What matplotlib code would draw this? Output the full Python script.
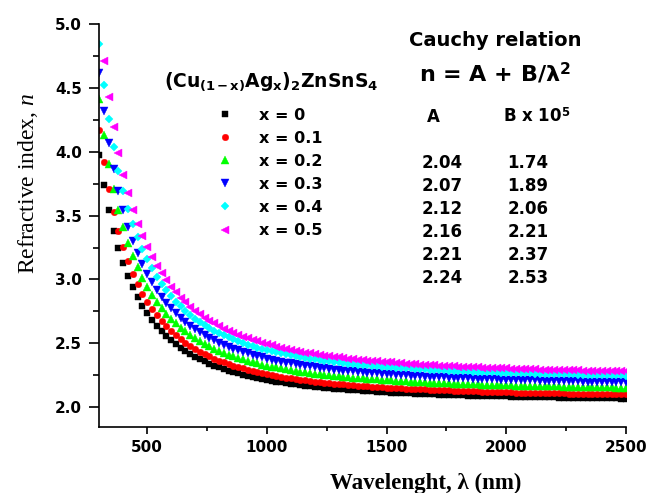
import numpy as np
import matplotlib
matplotlib.use("Agg")
import matplotlib.pyplot as plt
from matplotlib.ticker import MultipleLocator, FormatStrFormatter

plt.rcParams["font.family"] = ["DejaVu Sans"]
plt.rcParams["mathtext.fontset"] = "custom"
plt.rcParams["mathtext.rm"] = "DejaVu Sans:bold"
plt.rcParams["mathtext.bf"] = "DejaVu Sans:bold"
plt.rcParams["mathtext.it"] = "Liberation Serif:italic"

# wavelength grid (nm), one point every 20 nm
wavelength = np.arange(300, 2501, 20)

n_x00 = [3.973, 3.739, 3.545, 3.383, 3.245, 3.128, 3.026, 2.939, 2.862, 2.795,
         2.736, 2.683, 2.637, 2.595, 2.557, 2.523, 2.493, 2.465, 2.440, 2.416,
         2.395, 2.376, 2.358, 2.341, 2.326, 2.312, 2.299, 2.287, 2.275, 2.265,
         2.255, 2.246, 2.237, 2.229, 2.221, 2.214, 2.207, 2.201, 2.195, 2.189,
         2.184, 2.179, 2.174, 2.169, 2.165, 2.161, 2.157, 2.153, 2.150, 2.146,
         2.143, 2.140, 2.137, 2.134, 2.131, 2.129, 2.126, 2.124, 2.122, 2.120,
         2.117, 2.115, 2.113, 2.112, 2.110, 2.108, 2.106, 2.105, 2.103, 2.102,
         2.100, 2.099, 2.097, 2.096, 2.095, 2.094, 2.093, 2.091, 2.090, 2.089,
         2.088, 2.087, 2.086, 2.085, 2.084, 2.084, 2.083, 2.082, 2.081, 2.080,
         2.080, 2.079, 2.078, 2.077, 2.077, 2.076, 2.075, 2.075, 2.074, 2.073,
         2.073, 2.072, 2.072, 2.071, 2.071, 2.070, 2.070, 2.069, 2.069, 2.068,
         2.068]
n_x01 = [4.170, 3.916, 3.705, 3.528, 3.379, 3.251, 3.141, 3.046, 2.963, 2.890,
         2.826, 2.769, 2.718, 2.673, 2.632, 2.595, 2.562, 2.531, 2.504, 2.479,
         2.456, 2.435, 2.415, 2.397, 2.381, 2.365, 2.351, 2.338, 2.326, 2.314,
         2.303, 2.293, 2.284, 2.275, 2.267, 2.259, 2.252, 2.245, 2.238, 2.232,
         2.226, 2.221, 2.215, 2.210, 2.206, 2.201, 2.197, 2.193, 2.189, 2.185,
         2.182, 2.179, 2.175, 2.172, 2.169, 2.166, 2.164, 2.161, 2.159, 2.156,
         2.154, 2.152, 2.150, 2.148, 2.146, 2.144, 2.142, 2.140, 2.139, 2.137,
         2.135, 2.134, 2.132, 2.131, 2.130, 2.128, 2.127, 2.126, 2.125, 2.123,
         2.122, 2.121, 2.120, 2.119, 2.118, 2.117, 2.116, 2.115, 2.115, 2.114,
         2.113, 2.112, 2.111, 2.110, 2.110, 2.109, 2.108, 2.108, 2.107, 2.106,
         2.106, 2.105, 2.105, 2.104, 2.103, 2.103, 2.102, 2.102, 2.101, 2.101,
         2.100]
n_x02 = [4.409, 4.132, 3.902, 3.710, 3.547, 3.408, 3.288, 3.184, 3.094, 3.014,
         2.944, 2.882, 2.826, 2.777, 2.732, 2.692, 2.656, 2.623, 2.593, 2.566,
         2.540, 2.517, 2.496, 2.477, 2.459, 2.442, 2.426, 2.412, 2.399, 2.386,
         2.374, 2.363, 2.353, 2.344, 2.334, 2.326, 2.318, 2.311, 2.303, 2.297,
         2.290, 2.284, 2.278, 2.273, 2.268, 2.263, 2.258, 2.254, 2.250, 2.246,
         2.242, 2.238, 2.235, 2.231, 2.228, 2.225, 2.222, 2.219, 2.217, 2.214,
         2.212, 2.209, 2.207, 2.205, 2.203, 2.201, 2.199, 2.197, 2.195, 2.193,
         2.191, 2.190, 2.188, 2.187, 2.185, 2.184, 2.182, 2.181, 2.180, 2.178,
         2.177, 2.176, 2.175, 2.174, 2.173, 2.172, 2.171, 2.169, 2.169, 2.168,
         2.167, 2.166, 2.165, 2.164, 2.163, 2.163, 2.162, 2.161, 2.160, 2.160,
         2.159, 2.158, 2.158, 2.157, 2.157, 2.156, 2.155, 2.155, 2.154, 2.154,
         2.153]
n_x03 = [4.616, 4.318, 4.072, 3.865, 3.690, 3.541, 3.413, 3.301, 3.204, 3.119,
         3.044, 2.977, 2.918, 2.865, 2.817, 2.774, 2.735, 2.699, 2.667, 2.638,
         2.611, 2.586, 2.564, 2.543, 2.523, 2.505, 2.489, 2.473, 2.459, 2.445,
         2.433, 2.421, 2.410, 2.400, 2.390, 2.381, 2.372, 2.364, 2.357, 2.349,
         2.343, 2.336, 2.330, 2.324, 2.319, 2.313, 2.309, 2.304, 2.299, 2.295,
         2.291, 2.287, 2.283, 2.280, 2.276, 2.273, 2.270, 2.267, 2.264, 2.261,
         2.258, 2.256, 2.253, 2.251, 2.249, 2.246, 2.244, 2.242, 2.240, 2.238,
         2.237, 2.235, 2.233, 2.231, 2.230, 2.228, 2.227, 2.225, 2.224, 2.223,
         2.221, 2.220, 2.219, 2.218, 2.216, 2.215, 2.214, 2.213, 2.212, 2.211,
         2.210, 2.209, 2.208, 2.207, 2.206, 2.206, 2.205, 2.204, 2.203, 2.202,
         2.202, 2.201, 2.200, 2.200, 2.199, 2.198, 2.198, 2.197, 2.196, 2.196,
         2.195]
n_x04 = [4.843, 4.525, 4.260, 4.039, 3.851, 3.691, 3.554, 3.434, 3.330, 3.239,
         3.158, 3.086, 3.023, 2.966, 2.915, 2.868, 2.826, 2.789, 2.754, 2.723,
         2.694, 2.667, 2.643, 2.620, 2.600, 2.580, 2.562, 2.546, 2.530, 2.516,
         2.503, 2.490, 2.478, 2.467, 2.457, 2.447, 2.438, 2.429, 2.421, 2.413,
         2.406, 2.399, 2.392, 2.386, 2.380, 2.375, 2.369, 2.364, 2.359, 2.355,
         2.350, 2.346, 2.342, 2.338, 2.334, 2.331, 2.328, 2.324, 2.321, 2.318,
         2.315, 2.313, 2.310, 2.307, 2.305, 2.303, 2.300, 2.298, 2.296, 2.294,
         2.292, 2.290, 2.288, 2.287, 2.285, 2.283, 2.282, 2.280, 2.279, 2.277,
         2.276, 2.274, 2.273, 2.272, 2.270, 2.269, 2.268, 2.267, 2.266, 2.265,
         2.264, 2.263, 2.262, 2.261, 2.260, 2.259, 2.258, 2.257, 2.256, 2.256,
         2.255, 2.254, 2.253, 2.253, 2.252, 2.251, 2.251, 2.250, 2.249, 2.249,
         2.248]
n_x05 = [5.051, 4.711, 4.429, 4.192, 3.992, 3.821, 3.674, 3.547, 3.436, 3.338,
         3.252, 3.176, 3.108, 3.047, 2.992, 2.943, 2.898, 2.858, 2.821, 2.787,
         2.756, 2.728, 2.702, 2.678, 2.656, 2.635, 2.616, 2.599, 2.582, 2.567,
         2.552, 2.539, 2.526, 2.515, 2.503, 2.493, 2.483, 2.474, 2.465, 2.457,
         2.449, 2.442, 2.435, 2.428, 2.422, 2.416, 2.410, 2.404, 2.399, 2.394,
         2.390, 2.385, 2.381, 2.377, 2.373, 2.369, 2.365, 2.362, 2.359, 2.356,
         2.352, 2.350, 2.347, 2.344, 2.341, 2.339, 2.336, 2.334, 2.332, 2.330,
         2.328, 2.326, 2.323, 2.322, 2.320, 2.318, 2.316, 2.315, 2.313, 2.312,
         2.310, 2.309, 2.307, 2.306, 2.305, 2.303, 2.302, 2.301, 2.300, 2.298,
         2.297, 2.296, 2.295, 2.294, 2.293, 2.292, 2.291, 2.290, 2.290, 2.289,
         2.288, 2.287, 2.286, 2.286, 2.285, 2.284, 2.283, 2.283, 2.282, 2.281,
         2.281]

labels = ["x = 0", "x = 0.1", "x = 0.2", "x = 0.3", "x = 0.4", "x = 0.5"]
cauchy_A = ["2.04", "2.07", "2.12", "2.16", "2.21", "2.24"]
cauchy_B = ["1.74", "1.89", "2.06", "2.21", "2.37", "2.53"]

series = [n_x00, n_x01, n_x02, n_x03, n_x04, n_x05]
markers = ["s", "o", "^", "v", "D", "<"]
colors = ["#000000", "#ff0000", "#00ff00", "#0000ff", "#00ffff", "#ff00ff"]
sizes = [4.4, 4.7, 5.3, 5.3, 4.4, 5.3]

W, H = 646, 493


def fx(px):
    return px / W


def fy(py):
    return 1 - py / H


fig = plt.figure(figsize=(W / 100, H / 100), dpi=100)
ax = fig.add_axes([0.1537, 0.1339, 0.8153, 0.8174])

for values, label, marker, color, ms in zip(series, labels, markers, colors, sizes):
    ax.plot(wavelength, values, linestyle="none", marker=marker, color=color,
            ms=ms, mec=color, mew=0.3, label=label)

ax.set_xlim(300, 2500)
ax.set_ylim(1.845, 5.0)
for side in ("top", "right"):
    ax.spines[side].set_visible(False)
for side in ("left", "bottom"):
    ax.spines[side].set_linewidth(1.2)

ax.xaxis.set_major_locator(MultipleLocator(500))
ax.xaxis.set_minor_locator(MultipleLocator(250))
ax.yaxis.set_major_locator(MultipleLocator(0.5))
ax.yaxis.set_minor_locator(MultipleLocator(0.25))
ax.yaxis.set_major_formatter(FormatStrFormatter("%.1f"))

ax.tick_params(axis="x", which="major", direction="out", length=5, width=1.2, pad=4.5, labelsize=11)
ax.tick_params(axis="x", which="minor", direction="out", length=3, width=1.2)
ax.tick_params(axis="y", which="major", direction="out", length=7.5, width=1.2, pad=5, labelsize=11)
ax.tick_params(axis="y", which="minor", direction="out", length=4.5, width=1.2)
for lbl in ax.get_xticklabels() + ax.get_yticklabels():
    lbl.set_fontweight("bold")

ax.set_xlabel("Wavelenght, λ (nm)", fontfamily="Liberation Serif", fontweight="bold", fontsize=16.5)
ax.xaxis.set_label_coords(0.620, -0.139)
ax.xaxis.label.set_va("center")
ax.set_ylabel("Refractive index, $n$", fontfamily="Liberation Serif", fontsize=17)
ax.yaxis.set_label_coords(-0.135, 0.6055)
ax.yaxis.label.set_va("center")

# legend: composition title drawn separately, entries below it
fig.text(fx(271), fy(82), r"$\mathbf{(Cu_{(1-x)}Ag_{x})_{2}ZnSnS_{4}}$",
         ha="center", va="center", fontsize=13.5)
ax.legend(loc="upper left", bbox_to_anchor=(fx(217), fy(107.5)), bbox_transform=fig.transFigure,
          frameon=False, numpoints=1,
          prop={"family": "DejaVu Sans", "weight": "bold", "size": 11.5},
          handlelength=1.0, handletextpad=1.6, labelspacing=0.51,
          borderpad=0, borderaxespad=0)

bold = dict(ha="center", va="center", fontweight="bold")
fig.text(fx(495), fy(41), "Cauchy relation", fontsize=14, **bold)
fig.text(fx(495), fy(73), r"n = A + B/λ$^{\mathbf{2}}$", fontsize=16, **bold)
fig.text(fx(433), fy(117), "A", fontsize=12, **bold)
fig.text(fx(537), fy(117), r"B x 10$^{\mathbf{5}}$", fontsize=12, **bold)
for i, (a, b) in enumerate(zip(cauchy_A, cauchy_B)):
    row = 163 + 23 * i
    fig.text(fx(442), fy(row), a, fontsize=12, **bold)
    fig.text(fx(528), fy(row), b, fontsize=12, **bold)

fig.savefig("out.png", dpi=100)
